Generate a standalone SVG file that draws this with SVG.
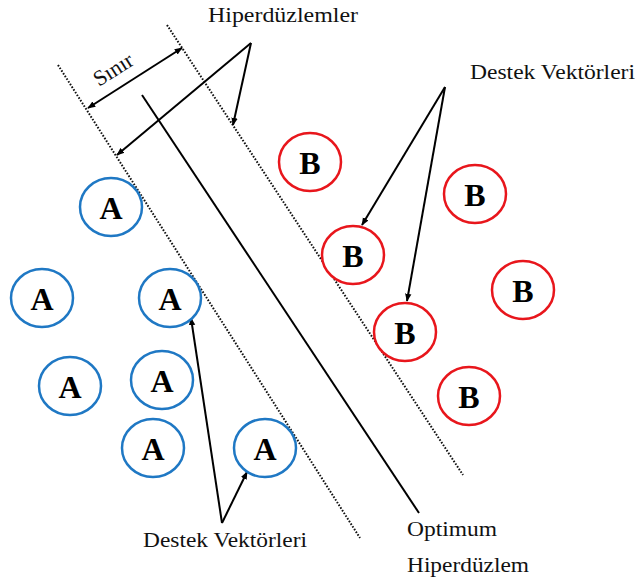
<svg xmlns="http://www.w3.org/2000/svg" width="635" height="581" viewBox="0 0 635 581">
<style>
.lbl{font-family:"Liberation Serif","Times New Roman",serif;font-size:22px;fill:#111}
.ltr{font-family:"Liberation Serif","Times New Roman",serif;font-size:32px;font-weight:bold;fill:#000;text-anchor:middle}
.ca{fill:#fff;stroke:#1f78c4;stroke-width:2.5}
.cb{fill:#fff;stroke:#e8161c;stroke-width:2.5}
.dot{stroke:#111;stroke-width:2;stroke-dasharray:1.6 1.6;fill:none}
.sol{stroke:#000;stroke-width:2;fill:none}
.arr{stroke:#000;stroke-width:2;fill:none;marker-end:url(#ah)}
</style>
<defs>
<marker id="ah" viewBox="0 0 10 10" refX="9" refY="5" markerWidth="4" markerHeight="4" orient="auto-start-reverse" markerUnits="strokeWidth">
<path d="M0,1 L10,5 L0,9 z" fill="#000"/>
</marker>
</defs>
<rect width="635" height="581" fill="#fff"/>
<g id="connectors">
<line class="dot" x1="58" y1="65" x2="360" y2="538"/>
<line class="dot" x1="167" y1="25" x2="463" y2="475"/>
<line class="sol" x1="142" y1="95" x2="419" y2="513"/>
<line class="arr" x1="182" y1="48" x2="88" y2="108" style="marker-start:url(#ah)"/>
<line class="arr" x1="251" y1="43" x2="117" y2="155"/>
<line class="arr" x1="251" y1="43" x2="233" y2="125"/>
<line class="arr" x1="445" y1="87" x2="362" y2="225"/>
<line class="arr" x1="445" y1="87" x2="407" y2="301"/>
<line class="arr" x1="222" y1="523" x2="191" y2="318"/>
<line class="arr" x1="222" y1="523" x2="247" y2="472"/>
</g>
<g id="labels">
<text class="lbl" x="208" y="22" textLength="150" lengthAdjust="spacingAndGlyphs">Hiperdüzlemler</text>
<text class="lbl" transform="translate(99,87) rotate(-32.5)">Sınır</text>
<text class="lbl" x="470" y="79" textLength="165" lengthAdjust="spacingAndGlyphs">Destek Vektörleri</text>
<text class="lbl" x="143" y="547" textLength="164" lengthAdjust="spacingAndGlyphs">Destek Vektörleri</text>
<text class="lbl" x="407" y="536" textLength="90" lengthAdjust="spacingAndGlyphs">Optimum</text>
<text class="lbl" x="407" y="572" textLength="122" lengthAdjust="spacingAndGlyphs">Hiperdüzlem</text>
</g>
<g id="a1"><ellipse class="ca" cx="111" cy="207" rx="31" ry="29"/><text class="ltr" x="111" y="219">A</text></g>
<g id="a2"><ellipse class="ca" cx="42" cy="298" rx="31" ry="29"/><text class="ltr" x="42" y="310">A</text></g>
<g id="a3"><ellipse class="ca" cx="170" cy="298" rx="31" ry="29"/><text class="ltr" x="170" y="310">A</text></g>
<g id="a4"><ellipse class="ca" cx="70" cy="386" rx="31" ry="29"/><text class="ltr" x="70" y="398">A</text></g>
<g id="a5"><ellipse class="ca" cx="162" cy="380" rx="31" ry="29"/><text class="ltr" x="162" y="392">A</text></g>
<g id="a6"><ellipse class="ca" cx="153" cy="448" rx="31" ry="29"/><text class="ltr" x="153" y="460">A</text></g>
<g id="a7"><ellipse class="ca" cx="265" cy="448" rx="31" ry="29"/><text class="ltr" x="265" y="460">A</text></g>
<g id="b1"><ellipse class="cb" cx="310" cy="162" rx="31" ry="29"/><text class="ltr" x="310" y="174">B</text></g>
<g id="b2"><ellipse class="cb" cx="475" cy="194" rx="31" ry="29"/><text class="ltr" x="475" y="206">B</text></g>
<g id="b3"><ellipse class="cb" cx="353" cy="255" rx="31" ry="29"/><text class="ltr" x="353" y="267">B</text></g>
<g id="b4"><ellipse class="cb" cx="523" cy="290" rx="31" ry="29"/><text class="ltr" x="523" y="302">B</text></g>
<g id="b5"><ellipse class="cb" cx="405" cy="332" rx="31" ry="29"/><text class="ltr" x="405" y="344">B</text></g>
<g id="b6"><ellipse class="cb" cx="469" cy="396" rx="31" ry="29"/><text class="ltr" x="469" y="408">B</text></g>
</svg>
